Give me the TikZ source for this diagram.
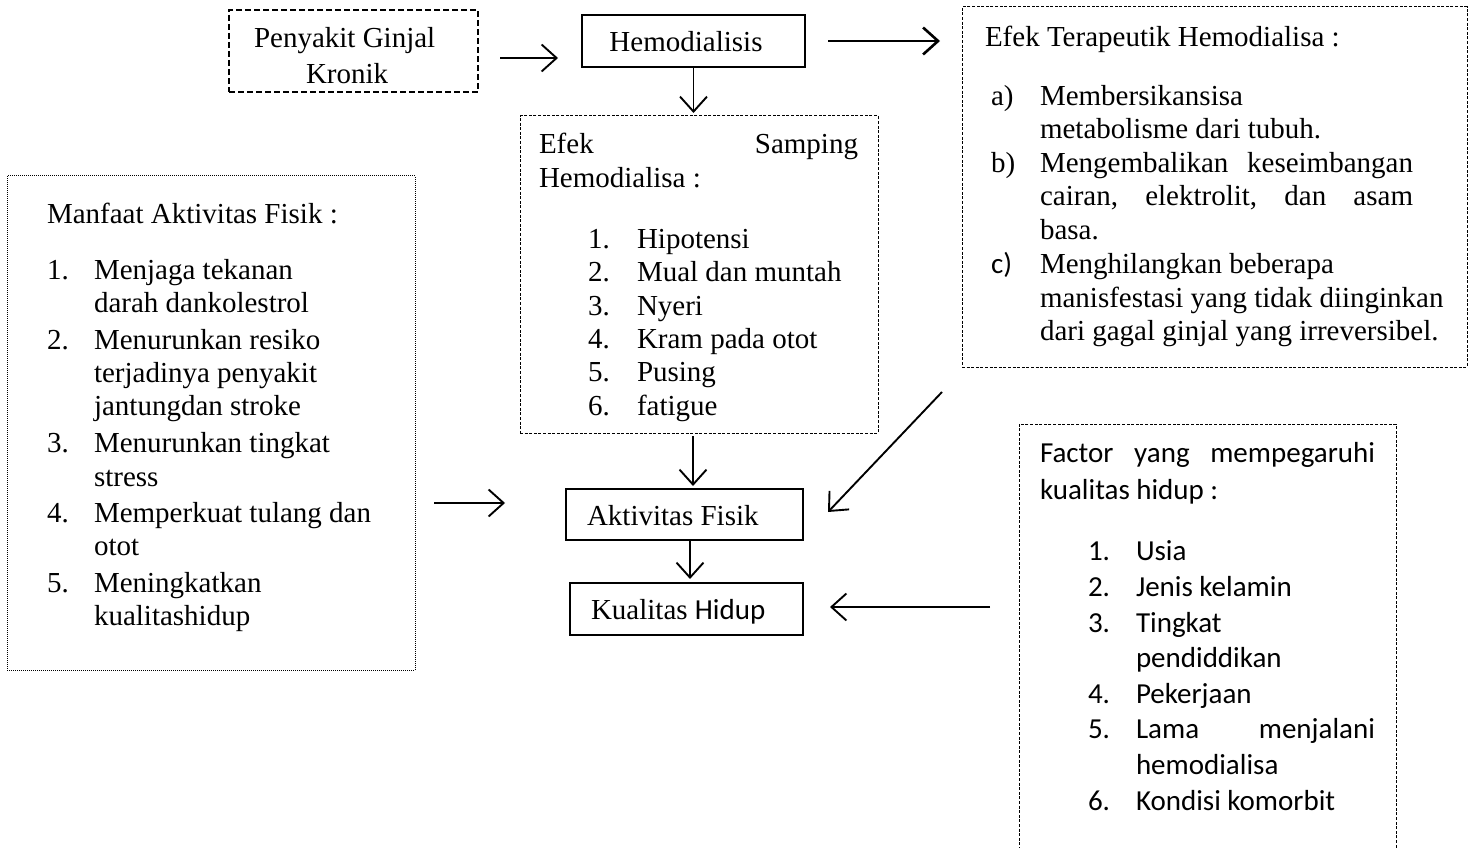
\documentclass[tikz,border=0pt]{standalone}
\usepackage{fontspec}
\setmainfont{Liberation Serif}
\newfontfamily\calfont{Carlito}
\usetikzlibrary{arrows.meta,calc}
\begin{document}
\begin{tikzpicture}[x=1pt,y=-1pt,
  every node/.style={inner sep=0pt,outer sep=0pt},
  box/.style={draw,rectangle,inner sep=0pt,outer sep=0pt},
  solidbox/.style={box,line width=1.4pt},
  thickbox/.style={box,line width=2.6pt},
  dashbox/.style={box,line width=1pt,dash pattern=on 3pt off 1.6pt},
  thickdash/.style={box,line width=2.4pt,dash pattern=on 6pt off 3pt},
  dotbox/.style={box,line width=1pt,dash pattern=on 1pt off 1pt},
  txt/.style={anchor=base west,font=\fontsize{29}{33}\selectfont},
  ctxt/.style={anchor=base west,font=\calfont\fontsize{29}{35}\selectfont},
  arr/.style={-{Straight Barb[length=15pt,width=27pt]},line width=1.9pt}]
\useasboundingbox (0,0) rectangle (1468,848);
\fill[white] (0,0) rectangle (1468,848);
\clip (0,0) rectangle (1468,848);

% boxes
\node[thickdash,minimum width=249pt,minimum height=82pt] (pgk) at (353.5,51) {};
\node[thickbox,minimum width=223pt,minimum height=52pt] (hemo) at (693.5,41) {};
\node[dashbox,minimum width=358pt,minimum height=317pt] (samping) at (699,274.5) {};
\node[dashbox,minimum width=505pt,minimum height=360pt] (terap) at (1214.5,187) {};
\node[dotbox,minimum width=408pt,minimum height=494pt] (manfaat) at (211,423) {};
\node[solidbox,minimum width=237pt,minimum height=51pt] (aktiv) at (684.5,514.5) {};
\node[solidbox,minimum width=233pt,minimum height=52pt] (kual) at (686.5,609) {};
\node[dashbox,minimum width=377pt,minimum height=456pt] (factor) at (1207.5,652) {};

% texts
\node[txt] (pgk1) at (254,48) {Penyakit Ginjal};
\node[txt] (pgk2) at (306,84) {Kronik};
\node[txt,anchor=base] (hemot) at (686,52) {Hemodialisis};

\node[txt] (tt) at (985,47) {Efek Terapeutik Hemodialisa :};
\node[txt] (ta) at (991,106) {a)};
\node[txt] (ta1) at (1040,106) {Membersikansisa};
\node[txt] (ta2) at (1040,139) {metabolisme dari tubuh.};
\node[txt] (tb) at (991,173) {b)};
\node[txt] (tb1) at (1040,173) {\makebox[373pt][l]{Mengembalikan\hfill keseimbangan}};
\node[txt] (tb2) at (1040,206) {\makebox[373pt][l]{cairan,\hfill elektrolit,\hfill dan\hfill asam}};
\node[txt] (tb3) at (1040,240) {basa.};
\node[ctxt] (tc) at (991,273) {c)};
\node[txt] (tc1) at (1040,273) {Menghilangkan beberapa};
\node[txt] (tc2) at (1040,307) {manisfestasi yang tidak diinginkan};
\node[txt] (tc3) at (1040,340) {dari gagal ginjal yang irreversibel.};

\node[txt] (st) at (539,154) {\makebox[319pt][l]{Efek\hfill Samping}};
\node[txt] (st2) at (539,188) {Hemodialisa :};
\node[txt] (sn1) at (588,248) {1.};
\node[txt] (s1) at (637,248) {Hipotensi};
\node[txt] (sn2) at (588,281) {2.};
\node[txt] (s2) at (637,281) {Mual dan muntah};
\node[txt] (sn3) at (588,315) {3.};
\node[txt] (s3) at (637,315) {Nyeri};
\node[txt] (sn4) at (588,348) {4.};
\node[txt] (s4) at (637,348) {Kram pada otot};
\node[txt] (sn5) at (588,381) {5.};
\node[txt] (s5) at (637,381) {Pusing};
\node[txt] (sn6) at (588,415) {6.};
\node[txt] (s6) at (637,415) {fatigue};

\node[txt] (mt) at (47,223) {Manfaat Aktivitas Fisik :};
\node[txt] (mn1) at (47,279) {1.};
\node[txt] (m1a) at (94,279) {Menjaga tekanan};
\node[txt] (m1b) at (94,312) {darah dankolestrol};
\node[txt] (mn2) at (47,349) {2.};
\node[txt] (m2a) at (94,349) {Menurunkan resiko};
\node[txt] (m2b) at (94,382) {terjadinya penyakit};
\node[txt] (m2c) at (94,415) {jantungdan stroke};
\node[txt] (mn3) at (47,452) {3.};
\node[txt] (m3a) at (94,452) {Menurunkan tingkat};
\node[txt] (m3b) at (94,486) {stress};
\node[txt] (mn4) at (47,522) {4.};
\node[txt] (m4a) at (94,522) {Memperkuat tulang dan};
\node[txt] (m4b) at (94,555) {otot};
\node[txt] (mn5) at (47,592) {5.};
\node[txt] (m5a) at (94,592) {Meningkatkan};
\node[txt] (m5b) at (94,625) {kualitashidup};

\node[txt] (akt) at (587,525) {Aktivitas Fisik};
\node[txt] (kut) at (591,619) {Kualitas {\calfont Hidup}};

\node[ctxt] (ft) at (1040,462) {\makebox[335pt][l]{Factor\hfill yang\hfill mempegaruhi}};
\node[ctxt] (ft2) at (1040,499) {kualitas hidup :};
\node[ctxt] (fn1) at (1088,560) {1.};
\node[ctxt] (f1) at (1136,560) {Usia};
\node[ctxt] (fn2) at (1088,596) {2.};
\node[ctxt] (f2) at (1136,596) {Jenis kelamin};
\node[ctxt] (fn3) at (1088,632) {3.};
\node[ctxt] (f3a) at (1136,632) {Tingkat};
\node[ctxt] (f3b) at (1136,667) {pendiddikan};
\node[ctxt] (fn4) at (1088,703) {4.};
\node[ctxt] (f4) at (1136,703) {Pekerjaan};
\node[ctxt] (fn5) at (1088,738) {5.};
\node[ctxt] (f5a) at (1136,738) {\makebox[239pt][l]{Lama\hfill menjalani}};
\node[ctxt] (f5b) at (1136,774) {hemodialisa};
\node[ctxt] (fn6) at (1088,810) {6.};
\node[ctxt] (f6) at (1136,810) {Kondisi komorbit};

% connectors
\draw[arr] ($(pgk.east)+(22,7)$) -- ($(hemo.west)+(-24,17)$);
\draw[arr,line width=2.6pt] ($(hemo.east)+(23,0)$) -- ($(terap.west |- hemo.east)+(-22,0)$);
\draw[arr,shorten >=3pt] (hemo.south) -- (hemo.south |- samping.north);
\draw[arr] ($(samping.south)+(-6,3)$) -- ($(samping.south |- aktiv.north)+(-6,-3)$);
\draw[arr] ($(aktiv.south)+(5.5,0)$) -- ($(aktiv.south |- kual.north)+(5.5,-4)$);
\draw[arr] ($(manfaat.east |- aktiv.west)+(19,-11.5)$) -- ($(aktiv.west)+(-61,-11.5)$);
\draw[arr] ($(terap.south west)+(-20,25)$) -- ($(aktiv.east)+(25,-2.5)$);
\draw[arr] ($(factor.west |- kual.east)+(-29,-2)$) -- ($(kual.east)+(27,-2)$);
\end{tikzpicture}
\end{document}
